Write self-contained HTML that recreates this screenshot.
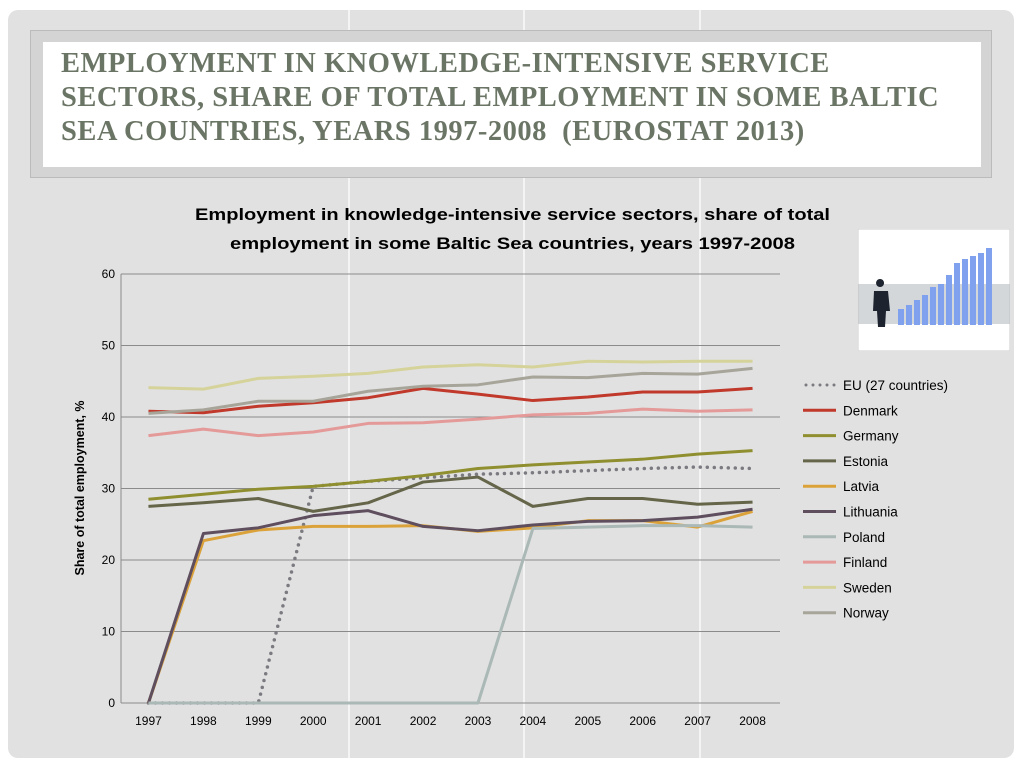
<!DOCTYPE html>
<html><head><meta charset="utf-8"><style>
body{margin:0;width:1024px;height:768px;background:#fff;overflow:hidden;font-family:"Liberation Sans",sans-serif}
#slide{position:absolute;left:8px;top:10px;width:1006px;height:748px;background:#e1e1e1;border-radius:10px}
.vl{position:absolute;top:0;width:2px;height:748px;background:#f4f4f4}
#tbox{position:absolute;left:30px;top:30px;width:962px;height:148px;background:#d4d4d4;border:1px solid #bbb;box-sizing:border-box}
#tin{position:absolute;left:12px;top:11px;width:938px;height:125px;background:#fff}
#title{position:absolute;left:18px;top:5px;font-family:"Liberation Serif",serif;font-weight:bold;font-size:28.5px;line-height:34px;color:#6b7565;letter-spacing:0.5px;white-space:nowrap}
</style></head><body>
<div id="slide">
<div class="vl" style="left:340px"></div>
<div class="vl" style="left:515px"></div>
<div class="vl" style="left:691px"></div>
</div>
<div id="tbox"><div id="tin"><div id="title">EMPLOYMENT IN KNOWLEDGE-INTENSIVE SERVICE<br>SECTORS, SHARE OF TOTAL EMPLOYMENT IN SOME BALTIC<br>SEA COUNTRIES, YEARS 1997-2008&nbsp; (EUROSTAT 2013)</div></div></div>
<svg id="pic" style="position:absolute;left:858px;top:229px" width="152" height="122">
<rect width="152" height="122" fill="#fff" stroke="#ccc"/>
<rect x="0" y="55" width="152" height="40" fill="#b8bcc2" opacity="0.6"/>
<g fill="#7fa1ee">
<rect x="40" y="80" width="6" height="16"/><rect x="48" y="76" width="6" height="20"/><rect x="56" y="71" width="6" height="25"/><rect x="64" y="66" width="6" height="30"/><rect x="72" y="58" width="6" height="38"/><rect x="80" y="55" width="6" height="41"/><rect x="88" y="46" width="6" height="50"/><rect x="96" y="34" width="6" height="62"/><rect x="104" y="30" width="6" height="66"/><rect x="112" y="27" width="6" height="69"/><rect x="120" y="24" width="6" height="72"/><rect x="128" y="19" width="6" height="77"/></g>
<path d="M22 58 a4 4 0 1 1 0.1 0 M16 62 h14 l2 20 h-4 l-1 16 h-7 l-1 -16 h-4z" fill="#1d2430"/>
</svg>
<svg id="chart" style="position:absolute;left:0;top:0" width="1024" height="768"></svg>
<script>
const years=["1997","1998","1999","2000","2001","2002","2003","2004","2005","2006","2007","2008"];
const yTicks=[0,10,20,30,40,50,60];
const names=["EU (27 countries)","Denmark","Germany","Estonia","Latvia","Lithuania","Poland","Finland","Sweden","Norway"];
const colors=["#7a7a80","#c0392b","#8f8f30","#65654a","#dba23a","#5e4e5e","#aab8b6","#e49a98","#d5d39a","#a7a59a"];
const eu=[0,0,0,30.3,31,31.5,32,32.2,32.5,32.8,33,32.8];
const denmark=[40.8,40.6,41.5,42,42.7,44,43.2,42.3,42.8,43.5,43.5,44];
const germany=[28.5,29.2,29.9,30.3,31,31.8,32.8,33.3,33.7,34.1,34.8,35.3];
const estonia=[27.5,28,28.6,26.8,28,30.9,31.6,27.5,28.6,28.6,27.8,28.1];
const latvia=[0,22.7,24.2,24.7,24.7,24.8,24,24.5,25.5,25.5,24.6,26.8];
const lithuania=[0,23.7,24.5,26.2,26.9,24.7,24.1,24.9,25.4,25.5,26,27.1];
const poland=[0,0,0,0,0,0,0,24.4,24.6,24.8,24.8,24.6];
const finland=[37.4,38.3,37.4,37.9,39.1,39.2,39.7,40.3,40.5,41.1,40.8,41];
const sweden=[44.1,43.9,45.4,45.7,46.1,47,47.3,47,47.8,47.7,47.8,47.8];
const norway=[40.5,41,42.2,42.2,43.6,44.3,44.5,45.6,45.5,46.1,46,46.8];
const series=[eu,denmark,germany,estonia,latvia,lithuania,poland,finland,sweden,norway];
const svg=document.getElementById('chart');const NS="http://www.w3.org/2000/svg";
const L=121,R=780,T=274,B=703;
const xs=i=>L+(R-L)/years.length*(i+0.5);
const ys=v=>B-(B-T)*v/60;
function mk(t,a,p){const e=document.createElementNS(NS,t);for(const k in a)e.setAttribute(k,a[k]);(p||svg).appendChild(e);return e;}
for(const v of yTicks){
 const g=mk('line',{x1:L,x2:R,y1:ys(v),y2:ys(v),stroke:'#8a8a8a','stroke-width':1});
 
 
 const t=mk('text',{x:L-6,y:ys(v)+4,'text-anchor':'end','font-size':12,fill:'#000'});t.textContent=v;
 
 
}
const ax=mk('line',{x1:L,x2:L,y1:T,y2:B,stroke:'#8a8a8a'});


years.forEach((y,i)=>{const t=mk('text',{x:xs(i),y:B+22,'text-anchor':'middle','font-size':12});t.textContent=y;
 
 });
series.forEach((s,k)=>{
 const pts=s.map((v,i)=>xs(i)+','+ys(v)).join(' ');
 const a={points:pts,fill:'none',stroke:colors[k],'stroke-width':3,'stroke-linejoin':'round'};
 if(k===0){a['stroke-dasharray']='0 7';a['stroke-linecap']='round';a['stroke-width']=3.5;}
 const p=mk('polyline',a);
 
 
 const ly=385+k*25.3;
 const la={x1:803,x2:836,y1:ly,y2:ly,stroke:colors[k],'stroke-width':3};
 if(k===0){la['stroke-dasharray']='0 7';la['stroke-linecap']='round';la.x1=806;}
 const ll=mk('line',la);
 
 
 const lt=mk('text',{x:843,y:ly+5,'font-size':13.5});lt.textContent=names[k];
 
 
});
const t1=mk('text',{x:195,y:220,'font-size':17,'font-weight':'bold',textLength:635,lengthAdjust:'spacingAndGlyphs'});t1.textContent='Employment in knowledge-intensive service sectors, share of total';


const t2=mk('text',{x:230,y:249,'font-size':17,'font-weight':'bold',textLength:565,lengthAdjust:'spacingAndGlyphs'});t2.textContent='employment in some Baltic Sea countries, years 1997-2008';


const yt=mk('text',{x:0,y:0,'text-anchor':'middle','font-size':12.5,'font-weight':'bold',transform:'translate(84,488) rotate(-90)'});yt.textContent='Share of total employment, %';


</script>
</body></html>
